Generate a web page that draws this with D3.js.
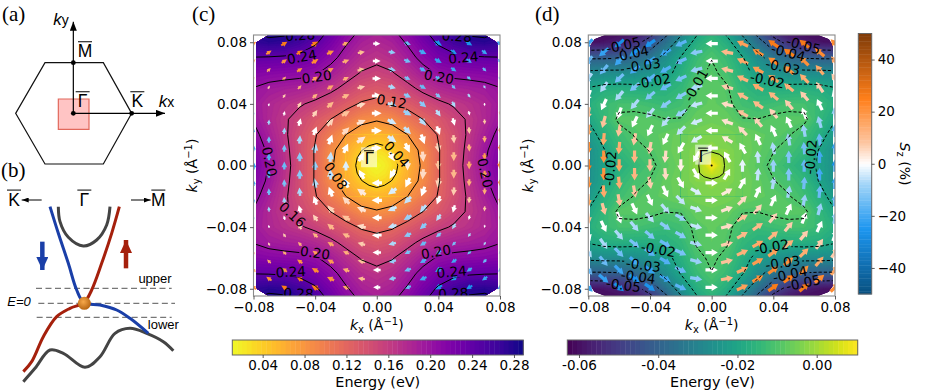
<!DOCTYPE html>
<html>
<head>
  <title>Spin texture maps</title>
  <script src="https://d3js.org/d3.v7.min.js"></script>
  <style>
    html, body { margin: 0; padding: 0; background: #fff; }
    svg { display: block; font-family: "DejaVu Sans", sans-serif; }
    .serif { font-family: "Liberation Serif", serif; }
    .sans2 { font-family: "Liberation Sans", sans-serif; }
  </style>
</head>
<body>
<script>
// energy on a quadrant grid, rows ky = 0..0.09, columns kx = 0..0.08 (both step 0.01)
var gridKx = [0, 0.01, 0.02, 0.03, 0.04, 0.05, 0.06, 0.07, 0.08];
var gridKy = [0, 0.01, 0.02, 0.03, 0.04, 0.05, 0.06, 0.07, 0.08, 0.09];

var energyUpper = [
  [.011, .029, .057, .085, .118, .143, .172, .199, .222],
  [.028, .040, .063, .088, .118, .142, .169, .195, .217],
  [.056, .064, .080, .100, .122, .142, .165, .187, .208],
  [.083, .089, .105, .120, .133, .149, .164, .180, .198],
  [.112, .117, .129, .142, .154, .163, .171, .181, .194],
  [.132, .138, .152, .167, .178, .185, .188, .192, .199],
  [.152, .158, .173, .190, .203, .208, .210, .212, .215],
  [.167, .174, .190, .208, .224, .232, .236, .238, .239],
  [.180, .187, .203, .224, .244, .260, .272, .275, .270],
  [.193, .200, .217, .240, .262, .280, .292, .292, .285]
];

var energyLower = [
  [.0105, -.002, -.006, -.0085, -.011, -.014, -.0175, -.021, -.026],
  [-.0015, -.003, -.0055, -.0075, -.0098, -.0115, -.0145, -.0205, -.026],
  [-.004, -.0045, -.006, -.0075, -.0085, -.0097, -.0125, -.017, -.0235],
  [-.006, -.007, -.0098, -.0099, -.0088, -.0085, -.0088, -.0145, -.0195],
  [-.0075, -.009, -.012, -.0135, -.0125, -.0115, -.0115, -.0135, -.017],
  [-.008, -.0095, -.0145, -.017, -.0175, -.0175, -.017, -.0175, -.0195],
  [-.009, -.0115, -.017, -.0225, -.0255, -.027, -.0275, -.0275, -.028],
  [-.0102, -.0135, -.0195, -.027, -.0345, -.0385, -.0405, -.041, -.041],
  [-.0135, -.0175, -.0265, -.036, -.046, -.053, -.057, -.059, -.06],
  [-.018, -.024, -.035, -.048, -.058, -.063, -.063, -.063, -.063]
];

// finer reading around Gamma, rows and columns 0..0.02 step 0.005
var patchK = [0, 0.005, 0.01, 0.015, 0.02];
var patchUpper = [
  [.011, .018, .029, .044, .057],
  [.018, .023, .033, .046, .060],
  [.028, .032, .041, .052, .064],
  [.042, .046, .052, .060, .070],
  [.056, .058, .064, .072, .080]
];
var patchLower = [
  [.0105, .004, -.002, -.0045, -.006],
  [.0045, .0025, -.002, -.0045, -.0058],
  [-.0015, -.003, -.003, -.0045, -.0055],
  [-.003, -.0035, -.0045, -.0055, -.0058],
  [-.004, -.0042, -.0045, -.0055, -.006]
];

// arrows sit on a staggered lattice: even columns at ky = n*step, odd at (n+.5)*step
var arrowColsKx = [0, 0.01, 0.02, 0.03, 0.04, 0.05, 0.06, 0.07, 0.08];
var arrowRowStep = 0.0113;

var angleUpper = [
  [0, 0, 0, 0, 0, 0, 0, 0],
  [-60, -35, -25, -15, -15, -12, -10],
  [-90, -65, -45, -30, -25, -25, -20, -20],
  [-85, -70, -50, -40, -30, -30, -25],
  [-90, -80, -70, -55, -40, -35, -30, -30],
  [-90, -85, -75, -60, -45, -35, -30],
  [-90, -88, -85, -75, -55, -45, -35, -30],
  [-90, -88, -85, -80, -60, -45, -35],
  [-90, -88, -85, -85, -75, -50, -40, -35]
];
var sizeUpper = [
  [0, .8, .8, .75, .75, .65, .6, .55],
  [.8, .8, .75, .7, .6, .6, .55],
  [.75, .8, .75, .7, .6, .5, .55, .55],
  [.8, .8, .75, .65, .55, .55, .6],
  [.7, .75, .7, .6, .5, .5, .6, .65],
  [.7, .65, .6, .5, .4, .5, .55],
  [.6, .55, .5, .35, .35, .4, .5, .55],
  [.55, .5, .4, .25, .3, .4, .5],
  [.6, .5, .4, .3, .2, .3, .4, .5]
];
var szUpper = [
  [0, 0, 0, 0, 0, 0, 0, 0],
  [0, -3, -4, -5, -7, -9, -10],
  [3, 0, -5, -9, -11, -13, -14, -15],
  [5, 0, -6, -11, -15, -18, -20],
  [9, 6, 0, -6, -12, -17, -22, -25],
  [11, 7, 0, -7, -13, -20, -24],
  [15, 13, 8, 0, -7, -14, -20, -26],
  [18, 14, 8, 0, -7, -15, -21],
  [22, 20, 15, 8, 0, -7, -14, -20]
];

var angleLower = [
  [180, 180, 180, 180, 180, 180, 180, 180],
  [120, 150, 160, 165, 165, 165, 170],
  [90, 120, 135, 150, 150, 155, 155, 155],
  [95, 115, 130, 145, 150, 150, 150],
  [90, 100, 115, 130, 140, 145, 145, 145],
  [90, 100, 115, 130, 140, 140, 145],
  [90, 95, 100, 110, 130, 135, 135, 140],
  [90, 95, 105, 115, 125, 130, 140],
  [90, 92, 95, 100, 110, 125, 130, 135]
];
var sizeLower = [
  [0, .95, .95, .95, .95, .95, .95, .95],
  [.95, .95, .95, .95, .95, .95, .95],
  [.95, .95, .95, .95, .95, .95, .95, .95],
  [.95, .95, .95, .95, .95, .95, .95],
  [.95, .95, .95, .95, .95, .95, .95, .95],
  [.95, .95, .95, .95, .95, .95, .95],
  [.95, .95, .95, .95, .95, .95, .95, .95],
  [.95, .95, .95, .95, .95, .95, .95],
  [.95, .95, .95, .95, .95, .95, .95, .95]
];
var szLower = [
  [0, 0, 0, 0, 0, 0, 0, 0],
  [0, 3, 4, 5, 7, 9, 11],
  [-2, 0, 5, 9, 11, 13, 15, 17],
  [-5, 0, 6, 11, 15, 18, 21],
  [-9, -7, 0, 6, 12, 17, 22, 26],
  [-12, -8, 0, 7, 13, 20, 25],
  [-16, -14, -9, 0, 7, 14, 21, 27],
  [-20, -15, -9, 0, 7, 15, 22],
  [-26, -22, -16, -9, 0, 7, 15, 22]
];

var levelsUpper = [0.04, 0.08, 0.12, 0.16, 0.20, 0.24, 0.28];
var levelsLower = [-0.05, -0.04, -0.03, -0.02, -0.01, 0.0];

// contour labels: text, kx, ky, rotation
var labelsUpper = [
  ["0.28", -.0497, .0845, -3], ["0.28", .0519, .0839, 3],
  ["0.24", -.0486, .0705, -10], ["0.24", .0562, .0701, -5],
  ["0.20", -.0389, .0575, -8], ["0.20", .0404, .0575, 10],
  ["0.20", -.0696, .0024, 78], ["0.20", .0703, -.0048, 78],
  ["0.12", .0097, .0417, 10], ["0.04", .013, .0074, 48],
  ["0.08", -.0266, -.0067, 55], ["0.16", -.0547, -.0318, 42],
  ["0.20", -.04, -.0566, 8], ["0.20", .0385, -.056, -10],
  ["0.24", -.0558, -.069, -3], ["0.24", .0486, -.069, -5],
  ["0.28", -.0508, -.083, 3], ["0.28", .0497, -.083, -3]
];
var labelsLower = [
  ["-0.05", -.0573, .0781, -12], ["-0.04", -.0519, .0726, -12],
  ["-0.03", -.0443, .0651, -8], ["-0.02", -.0378, .0549, -10],
  ["-0.01", -.0102, .0521, -60],
  ["-0.05", .0595, .0781, 15], ["-0.04", .0497, .0733, 15],
  ["-0.03", .0461, .064, 12], ["-0.02", .0361, .0554, 12],
  ["-0.02", .0642, .0056, -85], ["-0.02", -.0659, -.0019, -85],
  ["-0.02", -.0346, -.0545, 10], ["-0.03", -.0443, -.0646, 8],
  ["-0.04", -.0476, -.0722, 8], ["-0.05", -.0573, -.0776, 8],
  ["-0.02", .0389, -.0528, -10], ["-0.03", .0461, -.0631, -8],
  ["-0.04", .0508, -.0705, -12], ["-0.05", .0595, -.0761, -12]
];

// outline of the computed region, upper right corner, mirrored for the others
var outlineUpper = [[.0783, 0], [.0783, .0797], [.07, .0847]];
var outlineLower = [[.0785, 0], [.0785, .078], [.076, .082], [.069, .0847]];

var ticksK = [-0.08, -0.04, 0, 0.04, 0.08];
var ticksBarUpper = [0.04, 0.08, 0.12, 0.16, 0.20, 0.24, 0.28];
var ticksBarLower = [-0.06, -0.04, -0.02, 0];
var ticksSz = [-40, -20, 0, 20, 40];

var width = 926, height = 390;
var svg = d3.select('body').append('svg')
  .attr('width', width).attr('height', height)
  .attr('viewBox', '0 0 ' + width + ' ' + height);
var defs = svg.append('defs');

var szColor = d3.scaleLinear()
  .domain([-50, -25, -8, 0, 8, 25, 50])
  .range(['#08507f', '#1c96f0', '#a0d4f8', '#ffffff', '#fdc6a2', '#ff7f1a', '#7f3b08']);

// mirror a quadrant table to the full grid
function fullGrid(table) {
  var rows = table.slice(1).reverse().concat(table);
  return rows.map(function(r) {
    return r.slice(1).reverse().concat(r);
  });
}

function gridPath(nx, ny, x, y, kxMax, kyMax) {
  var gx = d3.scaleLinear().domain([0, nx]).range([x(-kxMax), x(kxMax)]);
  var gy = d3.scaleLinear().domain([0, ny]).range([y(-kyMax), y(kyMax)]);
  return d3.geoPath(d3.geoTransform({
    point: function(px, py) { this.stream.point(gx(px), gy(py)); }
  }));
}

function drawPanel(o) {
  var x = d3.scaleLinear().domain([-0.08, 0.08]).range(o.xRange);
  var y = d3.scaleLinear().domain([-0.0847, 0.0847]).range(o.yRange);

  var rows = fullGrid(o.energy);
  var nx = rows[0].length, ny = rows.length;
  var values = d3.merge(rows);
  var stepK = gridKx[1] - gridKx[0];
  var path = gridPath(nx, ny, x, y,
    gridKx[gridKx.length - 1] + stepK / 2, gridKy[gridKy.length - 1] + stepK / 2);

  var pRows = fullGrid(o.patch);
  var pn = pRows.length;
  var pValues = d3.merge(pRows);
  var pStep = patchK[1] - patchK[0];
  var pMax = patchK[patchK.length - 1];
  var pPath = gridPath(pn, pn, x, y, pMax + pStep / 2, pMax + pStep / 2);

  // clip: rectangle of the axes and region of the data
  var cornerPts = o.outline;
  var ring = cornerPts
    .concat(cornerPts.slice(1).reverse().map(function(p) { return [-p[0], p[1]]; }))
    .concat(cornerPts.slice(1).map(function(p) { return [-p[0], -p[1]]; }))
    .concat(cornerPts.slice(1).reverse().map(function(p) { return [p[0], -p[1]]; }));
  var ringPts = ring.map(function(p) { return [x(p[0]), y(p[1])]; });
  var ringD = d3.line()(ringPts) + 'Z';
  var squareD = d3.line()([[x(-pMax), y(pMax)], [x(pMax), y(pMax)], [x(pMax), y(-pMax)], [x(-pMax), y(-pMax)]]) + 'Z';
  defs.append('clipPath').attr('id', o.id + '-dom')
    .append('path').attr('d', ringD);
  defs.append('clipPath').attr('id', o.id + '-outer')
    .append('path').attr('d', ringD + squareD).attr('clip-rule', 'evenodd');
  defs.append('clipPath').attr('id', o.id + '-patch')
    .append('path').attr('d', squareD);
  defs.append('clipPath').attr('id', o.id + '-axes')
    .append('rect')
    .attr('x', o.xRange[0]).attr('y', o.yRange[1])
    .attr('width', o.xRange[1] - o.xRange[0]).attr('height', o.yRange[0] - o.yRange[1]);

  // filled bands
  var thresholds = d3.range(0, 60).map(function(i) {
    return o.vRange[0] + (o.vRange[1] - o.vRange[0]) * i / 60;
  });
  var bandStep = (o.vRange[1] - o.vRange[0]) / 60;
  function bands(g, size, vals, p) {
    g.selectAll('path')
      .data(d3.contours().size(size).thresholds(thresholds)(vals))
      .enter().append('path')
      .attr('d', p)
      .attr('fill', function(d) { return o.color(d.value + bandStep / 2); })
      .attr('stroke', function(d) { return o.color(d.value + bandStep / 2); })
      .attr('stroke-width', 0.4);
  }
  bands(svg.append('g').attr('clip-path', 'url(#' + o.id + '-dom)'), [nx, ny], values, path);
  bands(svg.append('g').attr('clip-path', 'url(#' + o.id + '-patch)'), [pn, pn], pValues, pPath);

  // arrows
  var arrows = [];
  arrowColsKx.forEach(function(kx, c) {
    o.angle[c].forEach(function(a, n) {
      var ky = (n + (c % 2 ? 0.5 : 0)) * arrowRowStep;
      var size = o.size[c][n], sz = o.sz[c][n];
      if (size === 0) return;
      arrows.push({kx: kx, ky: ky, a: a, size: size, sz: sz});
      if (ky > 0) arrows.push({kx: kx, ky: -ky, a: 180 - a, size: size, sz: sz});
      if (kx > 0) arrows.push({kx: -kx, ky: ky, a: -a, size: size, sz: -sz});
      if (kx > 0 && ky > 0) arrows.push({kx: -kx, ky: -ky, a: a + 180, size: size, sz: -sz});
    });
  });
  var lengthScale = d3.scaleLinear().domain([0, 1]).range([0, 13]);
  var arrowG = svg.append('g').attr('clip-path', 'url(#' + o.id + '-axes)');
  arrowG.selectAll('path').data(arrows).enter().append('path')
    .attr('d', function(d) {
      var L = lengthScale(d.size);
      var hl = L * o.head[0], hw = L * o.head[1] / 2, sw = L * o.head[2] / 2;
      return d3.line()([[-L / 2, -sw], [L / 2 - hl, -sw], [L / 2 - hl, -hw], [L / 2, 0],
        [L / 2 - hl, hw], [L / 2 - hl, sw], [-L / 2, sw]]) + 'Z';
    })
    .attr('transform', function(d) {
      return 'translate(' + x(d.kx) + ',' + y(d.ky) + ') rotate(' + (-d.a) + ')';
    })
    .attr('fill', function(d) { return szColor(d.sz); });

  // gaps in the lines under the labels
  var mask = defs.append('mask').attr('id', o.id + '-gaps')
    .attr('maskUnits', 'userSpaceOnUse')
    .attr('x', 0).attr('y', 0).attr('width', width).attr('height', height);
  mask.append('rect').attr('width', width).attr('height', height).attr('fill', '#fff');
  mask.selectAll('rect.gap').data(o.labels).enter().append('rect')
    .attr('class', 'gap')
    .attr('x', function(d) { return -d[0].length * 3.9; })
    .attr('y', -6)
    .attr('width', function(d) { return d[0].length * 7.8; })
    .attr('height', 12)
    .attr('fill', '#000')
    .attr('transform', function(d) {
      return 'translate(' + x(d[1]) + ',' + y(d[2]) + ') rotate(' + d[3] + ')';
    });

  var lineG = svg.append('g').attr('mask', 'url(#' + o.id + '-gaps)');
  function lines(g, size, vals, p) {
    g.selectAll('path')
      .data(d3.contours().size(size).thresholds(o.levels)(vals))
      .enter().append('path')
      .attr('d', p)
      .attr('fill', 'none')
      .attr('stroke', '#000')
      .attr('stroke-width', 1)
      .attr('stroke-dasharray', function(d) { return d.value < -0.001 ? '3.2,2' : null; });
  }
  lines(lineG.append('g').attr('clip-path', 'url(#' + o.id + '-outer)'), [nx, ny], values, path);
  lines(lineG.append('g').attr('clip-path', 'url(#' + o.id + '-patch)'), [pn, pn], pValues, pPath);

  // contour labels
  var textG = svg.append('g').attr('clip-path', 'url(#' + o.id + '-axes)');
  textG.selectAll('text').data(o.labels).enter().append('text')
    .attr('transform', function(d) {
      return 'translate(' + x(d[1]) + ',' + y(d[2]) + ') rotate(' + d[3] + ')';
    })
    .attr('text-anchor', 'middle').attr('dy', '0.36em')
    .attr('font-size', 13.5).attr('fill', '#000')
    .text(function(d) { return d[0]; });

  // gamma box
  var bx = x(o.gamma[0]), by = y(o.gamma[1]);
  svg.append('rect').attr('x', bx - 8).attr('y', by - 11).attr('width', 16).attr('height', 20)
    .attr('fill', '#fff').attr('fill-opacity', 0.55);
  svg.append('text').attr('x', bx).attr('y', by + 6).attr('text-anchor', 'middle')
    .attr('font-size', 16.5).text('Γ');
  svg.append('line').attr('x1', bx - 5).attr('x2', bx + 5)
    .attr('y1', by - 7.5).attr('y2', by - 7.5).attr('stroke', '#000').attr('stroke-width', 1);

  if (o.centerDot) {
    svg.append('circle').attr('cx', x(0)).attr('cy', y(0)).attr('r', 1).attr('fill', '#000');
  }

  // axes
  svg.append('rect')
    .attr('x', o.xRange[0]).attr('y', o.yRange[1])
    .attr('width', o.xRange[1] - o.xRange[0]).attr('height', o.yRange[0] - o.yRange[1])
    .attr('fill', 'none').attr('stroke', '#8a8a8a').attr('stroke-width', 1.1);

  var xAxis = svg.append('g').attr('transform', 'translate(0,' + o.yRange[0] + ')')
    .call(d3.axisBottom(x).tickValues(ticksK).tickFormat(d3.format('.2f')).tickSize(3.5).tickPadding(3));
  var yAxis = svg.append('g').attr('transform', 'translate(' + o.xRange[0] + ',0)')
    .call(d3.axisLeft(y).tickValues(ticksK).tickFormat(d3.format('.2f')).tickSize(3.5).tickPadding(3));
  [xAxis, yAxis].forEach(function(a) {
    a.select('.domain').remove();
    a.selectAll('text').attr('font-size', 13.5).attr('font-family', '"DejaVu Sans", sans-serif').attr('fill', '#000');
    a.selectAll('line').attr('stroke', '#333').attr('stroke-width', 0.8);
  });

  axisLabel(svg.append('text')
    .attr('transform', 'translate(' + d3.mean(o.xRange) + ',' + (o.yRange[0] + 34) + ')'), 'x');
  axisLabel(svg.append('text')
    .attr('transform', 'translate(' + (o.xRange[0] - o.yLabelGap) + ',' + d3.mean(o.yRange) + ') rotate(-90)'), 'y');
}

function axisLabel(t, sub) {
  t.attr('text-anchor', 'middle').attr('font-size', 14);
  t.append('tspan').attr('font-style', 'italic').text('k');
  t.append('tspan').attr('font-size', 10).attr('dy', 3).text(sub);
  t.append('tspan').attr('dy', -3).text(' (Å');
  t.append('tspan').attr('font-size', 10).attr('dy', -5).text('−1');
  t.append('tspan').attr('dy', 5).text(')');
}

function drawHBar(o) {
  var x = d3.scaleLinear().domain(o.vRange).range(o.xRange);
  var n = 60, step = (o.vRange[1] - o.vRange[0]) / n;
  svg.append('g').selectAll('rect').data(d3.range(n)).enter().append('rect')
    .attr('x', function(i) { return x(o.vRange[0] + i * step); })
    .attr('width', function(i) { return x(o.vRange[0] + step) - x(o.vRange[0]) + 0.4; })
    .attr('y', o.y).attr('height', o.h)
    .attr('fill', function(i) { return o.color(o.vRange[0] + (i + 0.5) * step); });
  svg.append('rect').attr('x', o.xRange[0]).attr('y', o.y)
    .attr('width', o.xRange[1] - o.xRange[0]).attr('height', o.h)
    .attr('fill', 'none').attr('stroke', '#666').attr('stroke-width', 1);
  var a = svg.append('g').attr('transform', 'translate(0,' + (o.y + o.h) + ')')
    .call(d3.axisBottom(x).tickValues(o.ticks).tickFormat(o.format).tickSize(3).tickPadding(2.4));
  a.select('.domain').remove();
  a.selectAll('text').attr('font-size', 13.5).attr('font-family', '"DejaVu Sans", sans-serif').attr('fill', '#000');
  a.selectAll('line').attr('stroke', '#333').attr('stroke-width', 0.8);
  svg.append('text').attr('x', d3.mean(o.xRange)).attr('y', o.y + o.h + 31.7)
    .attr('text-anchor', 'middle').attr('font-size', 14.4).text('Energy (eV)');
}

var colorUpper = function(v) { return d3.interpolatePlasma(1 - (v - 0.011) / (0.2889 - 0.011)); };
var colorLower = function(v) { return d3.interpolateViridis((v + 0.06295) / (0.01035 + 0.06295)); };

drawPanel({
  id: 'c', xRange: [253.5, 500], yRange: [296, 35], energy: energyUpper, patch: patchUpper,
  vRange: [0.011, 0.2889], color: colorUpper, levels: levelsUpper, labels: labelsUpper,
  outline: outlineUpper, angle: angleUpper, size: sizeUpper, sz: szUpper, head: [0.72, 0.72, 0.3],
  gamma: [-0.005, 0.0047], centerDot: false, yLabelGap: 57
});
drawPanel({
  id: 'd', xRange: [588.3, 835], yRange: [296, 35], energy: energyLower, patch: patchLower,
  vRange: [-0.06295, 0.01035], color: colorLower, levels: levelsLower, labels: labelsLower,
  outline: outlineLower, angle: angleLower, size: sizeLower, sz: szLower, head: [0.5, 0.58, 0.26],
  gamma: [-0.0055, 0.0064], centerDot: true, yLabelGap: 55
});

drawHBar({
  xRange: [232.3, 523.3], y: 340, h: 15, vRange: [0.011, 0.2889], color: colorUpper,
  ticks: ticksBarUpper, format: d3.format('.2f')
});
drawHBar({
  xRange: [567.3, 857.7], y: 340, h: 15, vRange: [-0.06295, 0.01035], color: colorLower,
  ticks: ticksBarLower, format: function(v) { return v.toFixed(2); }
});

// vertical Sz colour bar
(function() {
  var y = d3.scaleLinear().domain([-50, 50]).range([294, 33.5]);
  svg.append('g').selectAll('rect').data(d3.range(-50, 50, 1)).enter().append('rect')
    .attr('x', 858.3).attr('width', 13.4)
    .attr('y', function(v) { return y(v + 1); })
    .attr('height', y(0) - y(1) + 0.4)
    .attr('fill', function(v) { return szColor(v + 0.5); });
  svg.append('rect').attr('x', 858.3).attr('y', 33.5).attr('width', 13.4).attr('height', 260.5)
    .attr('fill', 'none').attr('stroke', '#666').attr('stroke-width', 1);
  var a = svg.append('g').attr('transform', 'translate(871.7,0)')
    .call(d3.axisRight(y).tickValues(ticksSz).tickFormat(d3.format('d')).tickSize(3).tickPadding(3));
  a.select('.domain').remove();
  a.selectAll('text').attr('font-size', 13.5).attr('font-family', '"DejaVu Sans", sans-serif').attr('fill', '#000');
  a.selectAll('line').attr('stroke', '#333').attr('stroke-width', 0.8);
  var t = svg.append('text').attr('transform', 'translate(900,164) rotate(90)')
    .attr('text-anchor', 'middle').attr('font-size', 14);
  t.append('tspan').attr('font-style', 'italic').text('S');
  t.append('tspan').attr('font-size', 10).attr('dy', 3).text('z');
  t.append('tspan').attr('dy', -3).text(' (%)');
})();

// schematic panels (a) and (b): points measured in a 600 x 1170 frame
var sx = d3.scaleLinear().domain([0, 600]).range([0, 200]);
var sy = d3.scaleLinear().domain([0, 1170]).range([0, 390]);

var hexPoints = [[47, 340], [135, 188], [310, 188], [395, 340], [310, 492], [135, 492], [47, 340]];
var bzDots = [[220, 340], [220, 188], [395, 340]];
var bzSquare = [[175, 297], [267, 297], [267, 388], [175, 388], [175, 297]];

var dashY = [[108, 515, 865], [115, 525, 910], [110, 515, 952]];
var parabola = [[175, 620], [180, 665], [205, 712], [250, 738], [290, 720], [320, 675], [330, 620]];
var blueBand = [[150, 620], [175, 700], [205, 790], [230, 870], [252, 908], [300, 915], [350, 930], [390, 955], [445, 1000]];
var redBand = [[358, 620], [335, 700], [305, 790], [275, 870], [252, 908], [210, 925], [170, 950], [130, 1010], [95, 1085], [70, 1115]];
var lowerBand = [[70, 1145], [105, 1105], [150, 1050], [190, 1060], [255, 1102], [300, 1070], [345, 1000], [390, 985], [440, 1000], [490, 1025], [520, 1052]];

var sLine = d3.line().x(function(d) { return sx(d[0]); }).y(function(d) { return sy(d[1]); });
var sCurve = d3.line().x(function(d) { return sx(d[0]); }).y(function(d) { return sy(d[1]); }).curve(d3.curveCatmullRom);

function headMarker(id, color, w, h) {
  defs.append('marker').attr('id', id).attr('markerUnits', 'userSpaceOnUse')
    .attr('viewBox', '0 0 ' + w + ' ' + h).attr('refX', w).attr('refY', h / 2)
    .attr('markerWidth', w).attr('markerHeight', h).attr('orient', 'auto')
    .append('path').attr('d', 'M0,0L' + w + ',' + (h / 2) + 'L0,' + h + 'Z').attr('fill', color);
}
headMarker('headBlack', '#000', 9, 7);
headMarker('headSmall', '#000', 7, 5);
headMarker('headBlue', '#1a3fa8', 13, 12);
headMarker('headRed', '#a5200c', 13, 12);

svg.append('path').attr('d', sLine(bzSquare) + 'Z')
  .attr('fill', '#ffc4c4').attr('stroke', '#e2685c').attr('stroke-width', 1.2);
svg.append('path').attr('d', sLine(hexPoints) + 'Z')
  .attr('fill', 'none').attr('stroke', '#111').attr('stroke-width', 1.2);
svg.append('path').attr('d', sLine([[220, 340], [495, 340]]))
  .attr('stroke', '#000').attr('stroke-width', 1.2).attr('marker-end', 'url(#headBlack)');
svg.append('path').attr('d', sLine([[220, 340], [220, 65]]))
  .attr('stroke', '#000').attr('stroke-width', 1.2).attr('marker-end', 'url(#headBlack)');
svg.selectAll('circle.bz').data(bzDots).enter().append('circle').attr('class', 'bz')
  .attr('cx', function(d) { return sx(d[0]); }).attr('cy', function(d) { return sy(d[1]); })
  .attr('r', 2.4).attr('fill', '#000');

function barredText(txt, px, py, size) {
  var t = svg.append('text').attr('class', 'sans2').attr('x', sx(px)).attr('y', sy(py))
    .attr('text-anchor', 'middle').attr('font-size', size).text(txt);
  svg.append('line').attr('x1', sx(px) - size * 0.4).attr('x2', sx(px) + size * 0.4)
    .attr('y1', sy(py) - size * 0.89).attr('y2', sy(py) - size * 0.89)
    .attr('stroke', '#000').attr('stroke-width', 1);
  return t;
}
barredText('M', 255, 172, 17.5);
barredText('Γ', 248, 322, 17.5);
barredText('K', 412, 322, 17.5);

function kLabel(px, py, sub) {
  var t = svg.append('text').attr('class', 'sans2').attr('x', sx(px)).attr('y', sy(py)).attr('font-size', 17);
  t.append('tspan').attr('font-style', 'italic').text('k');
  t.append('tspan').attr('font-size', 14).text(sub);
}
kLabel(160, 74, 'y');
kLabel(476, 320, 'x');

[['(a)', 2, 21], ['(b)', 1, 177], ['(c)', 192, 21], ['(d)', 535, 21]].forEach(function(l) {
  svg.append('text').attr('class', 'serif').attr('x', l[1]).attr('y', l[2]).attr('font-size', 21).text(l[0]);
});

barredText('K', 42, 617, 17.5);
barredText('Γ', 253, 617, 17.5);
barredText('M', 475, 617, 17.5);
svg.append('path').attr('d', sLine([[125, 600], [65, 600]]))
  .attr('stroke', '#000').attr('stroke-width', 1).attr('marker-end', 'url(#headSmall)');
svg.append('path').attr('d', sLine([[393, 600], [452, 600]]))
  .attr('stroke', '#000').attr('stroke-width', 1).attr('marker-end', 'url(#headSmall)');

svg.selectAll('line.dash').data(dashY).enter().append('line').attr('class', 'dash')
  .attr('x1', function(d) { return sx(d[0]); }).attr('x2', function(d) { return sx(d[1]); })
  .attr('y1', function(d) { return sy(d[2]); }).attr('y2', function(d) { return sy(d[2]); })
  .attr('stroke', '#777').attr('stroke-width', 1.4).attr('stroke-dasharray', '6,3.5');

[[parabola, '#444'], [lowerBand, '#444'], [redBand, '#a5200c'], [blueBand, '#1a3fa8']].forEach(function(b) {
  svg.append('path').attr('d', sCurve(b[0])).attr('fill', 'none')
    .attr('stroke', b[1]).attr('stroke-width', 3);
});

svg.append('path').attr('d', sLine([[127, 725], [127, 810]]))
  .attr('stroke', '#1a3fa8').attr('stroke-width', 4.5).attr('marker-end', 'url(#headBlue)');
svg.append('path').attr('d', sLine([[378, 805], [378, 720]]))
  .attr('stroke', '#a5200c').attr('stroke-width', 4.5).attr('marker-end', 'url(#headRed)');

var sphere = defs.append('radialGradient').attr('id', 'sphere').attr('cx', '42%').attr('cy', '38%').attr('r', '65%');
sphere.append('stop').attr('offset', '0%').attr('stop-color', '#f7a84a');
sphere.append('stop').attr('offset', '100%').attr('stop-color', '#b4620f');
svg.append('circle').attr('cx', sx(253)).attr('cy', sy(910)).attr('r', 6.5).attr('fill', 'url(#sphere)');

[['upper', 465, 850, 'normal'], ['E=0', 57, 918, 'italic'], ['lower', 490, 988, 'normal']].forEach(function(l) {
  svg.append('text').attr('class', 'sans2').attr('x', sx(l[1])).attr('y', sy(l[2]))
    .attr('text-anchor', 'middle').attr('font-style', l[3]).attr('font-size', 13).text(l[0]);
});
</script>
</body>
</html>
